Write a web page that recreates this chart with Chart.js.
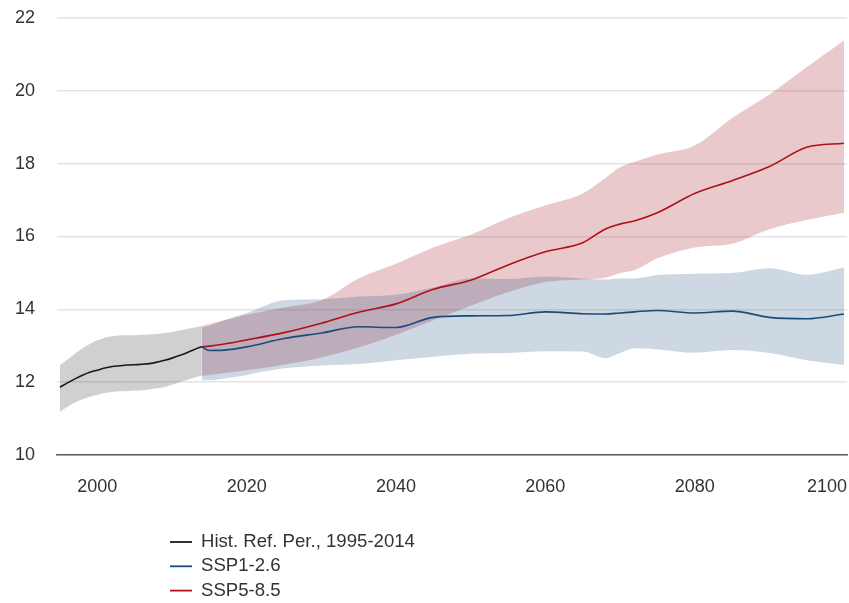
<!DOCTYPE html>
<html>
<head>
  <meta charset="UTF-8">
  <title>Temperature projection</title>
  <script src="https://cdn.jsdelivr.net/npm/chart.js"></script>
  <style>
    body {
      margin: 0;
      padding: 0;
      background: #fff;
    }
    #wrap {
      width: 849px;
      height: 603px;
    }
  </style>
</head>
<body>
<div id="wrap">
  <canvas id="chart" width="849" height="603"></canvas>
</div>

<script>
  // historical reference period
  const histYears = [1995, 1996, 1997, 1998, 1999, 2000, 2001, 2002, 2003, 2004,
                     2005, 2006, 2007, 2008, 2009, 2010, 2011, 2012, 2013, 2014];
  const histMean = [11.86, 11.98, 12.09, 12.19, 12.27, 12.33, 12.39, 12.43, 12.45, 12.47,
                    12.48, 12.49, 12.51, 12.55, 12.6, 12.66, 12.73, 12.81, 12.9, 12.98];
  const histLow = [11.19, 11.32, 11.44, 11.53, 11.6, 11.65, 11.7, 11.73, 11.75, 11.76,
                   11.77, 11.78, 11.8, 11.83, 11.87, 11.93, 12.0, 12.06, 12.12, 12.18];
  const histHigh = [12.47, 12.62, 12.78, 12.93, 13.05, 13.15, 13.22, 13.26, 13.28, 13.29,
                    13.29, 13.3, 13.31, 13.32, 13.35, 13.38, 13.42, 13.46, 13.5, 13.55];

  // scenarios
  const sspYears = [2014, 2015, 2017, 2020, 2025, 2030, 2035, 2040, 2045, 2050, 2055,
                    2060, 2065, 2068, 2070, 2072, 2075, 2080, 2085, 2090, 2095, 2100];
  const ssp1Mean = [12.97, 12.87, 12.88, 12.97, 13.2, 13.35, 13.52, 13.5, 13.78, 13.82, 13.83,
                    13.93, 13.88, 13.87, 13.9, 13.93, 13.97, 13.9, 13.95, 13.78, 13.74, 13.87];
  const ssp1Low = [12.05, 12.05, 12.1, 12.2, 12.38, 12.46, 12.5, 12.6, 12.7, 12.78, 12.8,
                   12.85, 12.84, 12.66, 12.8, 12.93, 12.9, 12.81, 12.88, 12.8, 12.6, 12.47];
  const ssp1High = [13.5, 13.55, 13.7, 13.9, 14.25, 14.28, 14.35, 14.4, 14.6, 14.85, 14.83,
                    14.9, 14.85, 14.82, 14.85, 14.85, 14.94, 14.98, 15.0, 15.13, 14.95, 15.15];
  const ssp5Mean = [12.97, 12.99, 13.05, 13.16, 13.36, 13.62, 13.92, 14.15, 14.55, 14.8, 15.22,
                    15.58, 15.83, 16.2, 16.34, 16.43, 16.65, 17.18, 17.53, 17.92, 18.45, 18.56];
  const ssp5Low = [12.17, 12.2, 12.25, 12.33, 12.48, 12.68, 12.95, 13.3, 13.7, 14.1, 14.47,
                   14.75, 14.82, 14.87, 15.0, 15.08, 15.4, 15.7, 15.8, 16.2, 16.45, 16.65];
  const ssp5High = [13.54, 13.6, 13.7, 13.85, 14.05, 14.25, 14.85, 15.25, 15.7, 16.05, 16.5,
                    16.85, 17.18, 17.6, 17.9, 18.05, 18.25, 18.5, 19.25, 19.9, 20.65, 21.38];

  const xTicks = [2000, 2020, 2040, 2060, 2080, 2100];
  const legendItems = [
    { label: 'Hist. Ref. Per., 1995-2014', color: '#1a1a1a' },
    { label: 'SSP1-2.6', color: '#1c4a7c' },
    { label: 'SSP5-8.5', color: '#ad1119' }
  ];

  const FONT = '"Liberation Sans", Arial, sans-serif';

  function pts(years, vals) {
    return years.map((y, i) => ({ x: y, y: vals[i] }));
  }

  function band(years, vals, fillColor) {
    return {
      data: pts(years, vals),
      borderWidth: 0,
      pointRadius: 0,
      fill: fillColor ? '-1' : false,
      backgroundColor: fillColor || 'transparent',
      cubicInterpolationMode: 'monotone'
    };
  }

  function line(years, vals, color) {
    return {
      data: pts(years, vals),
      borderColor: color,
      borderWidth: 1.6,
      pointRadius: 0,
      fill: false,
      cubicInterpolationMode: 'monotone'
    };
  }

  // x tick labels, last one kept inside the canvas
  const xLabelsPlugin = {
    id: 'xLabels',
    afterDraw(chart) {
      const ctx = chart.ctx;
      const xs = chart.scales.x;
      ctx.save();
      ctx.font = '18px ' + FONT;
      ctx.fillStyle = '#333';
      ctx.textAlign = 'center';
      ctx.textBaseline = 'middle';
      xTicks.forEach(v => {
        let px = xs.getPixelForValue(v);
        const w = ctx.measureText(String(v)).width;
        if (px + w / 2 > chart.width - 2) px = chart.width - 2 - w / 2;
        ctx.fillText(String(v), px, 487);
      });
      ctx.restore();
    }
  };

  // legend stacked under the chart
  const legendPlugin = {
    id: 'stackLegend',
    afterDraw(chart) {
      const ctx = chart.ctx;
      ctx.save();
      ctx.font = '18.6px ' + FONT;
      ctx.textBaseline = 'middle';
      legendItems.forEach((it, i) => {
        const y = 542 + i * 24.3;
        ctx.strokeStyle = it.color;
        ctx.lineWidth = 1.8;
        ctx.beginPath();
        ctx.moveTo(170, y);
        ctx.lineTo(192, y);
        ctx.stroke();
        ctx.fillStyle = '#333';
        ctx.fillText(it.label, 201, y);
      });
      ctx.restore();
    }
  };

  new Chart(document.getElementById('chart').getContext('2d'), {
    type: 'line',
    data: {
      datasets: [
        band(histYears, histLow),
        band(histYears, histHigh, 'rgba(0, 0, 0, 0.185)'),
        band(sspYears, ssp1Low),
        band(sspYears, ssp1High, 'rgba(31, 78, 121, 0.22)'),
        band(sspYears, ssp5Low),
        band(sspYears, ssp5High, 'rgba(170, 40, 50, 0.25)'),
        line(histYears, histMean, '#1a1a1a'),
        line(sspYears, ssp1Mean, '#1c4a7c'),
        line(sspYears, ssp5Mean, '#ad1119')
      ]
    },
    options: {
      responsive: false,
      animation: false,
      layout: { padding: { top: 18, right: 2, left: 0, bottom: 0 } },
      plugins: {
        legend: { display: false },
        tooltip: { enabled: false },
        filler: { drawTime: 'beforeDatasetsDraw' }
      },
      scales: {
        x: {
          type: 'linear',
          min: 1994.6,
          max: 2100.4,
          grid: { display: false },
          ticks: { display: false },
          border: { display: true, color: '#5a5a5a', width: 1.5 },
          afterFit(scale) { scale.height = 148; }
        },
        y: {
          min: 10,
          max: 22,
          ticks: {
            stepSize: 2,
            padding: 22,
            color: '#333',
            font: { family: FONT, size: 18 }
          },
          grid: { color: '#e4e4e4', lineWidth: 1.5, drawTicks: false },
          border: { display: false },
          afterFit(scale) {
            scale.width = 57;
            scale.paddingTop = 0;
            scale.paddingBottom = 0;
          }
        }
      }
    },
    plugins: [xLabelsPlugin, legendPlugin]
  });
</script>
</body>
</html>
